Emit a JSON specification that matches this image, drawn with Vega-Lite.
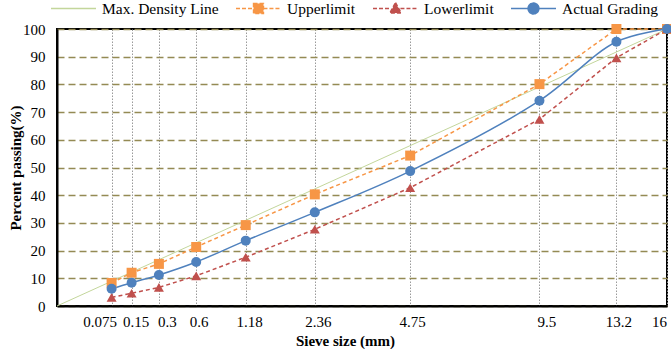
{
  "$schema": "https://vega.github.io/schema/vega-lite/v6.json",
  "width": 610,
  "height": 277,
  "autosize": {"type": "none"},
  "padding": {"left": 57, "top": 29, "right": 4, "bottom": 43},
  "background": "white",
  "config": {
    "view": {"stroke": "black", "strokeWidth": 2},
    "font": "Liberation Serif"
  },
  "data": {
    "values": [
      {"size": 0, "pct": 0, "series": "Max. Density Line"},
      {"size": 16, "pct": 100, "series": "Max. Density Line"},
      {"size": 0.075, "pct": 8.3, "series": "Upperlimit"},
      {"size": 0.15, "pct": 12, "series": "Upperlimit"},
      {"size": 0.3, "pct": 15.2, "series": "Upperlimit"},
      {"size": 0.6, "pct": 21.3, "series": "Upperlimit"},
      {"size": 1.18, "pct": 29.2, "series": "Upperlimit"},
      {"size": 2.36, "pct": 40.3, "series": "Upperlimit"},
      {"size": 4.75, "pct": 54.3, "series": "Upperlimit"},
      {"size": 9.5, "pct": 80.1, "series": "Upperlimit"},
      {"size": 13.2, "pct": 100, "series": "Upperlimit"},
      {"size": 16, "pct": 100, "series": "Upperlimit"},
      {"size": 0.075, "pct": 3.1, "series": "Lowerlimit"},
      {"size": 0.15, "pct": 4.6, "series": "Lowerlimit"},
      {"size": 0.3, "pct": 6.7, "series": "Lowerlimit"},
      {"size": 0.6, "pct": 10.9, "series": "Lowerlimit"},
      {"size": 1.18, "pct": 17.6, "series": "Lowerlimit"},
      {"size": 2.36, "pct": 27.7, "series": "Lowerlimit"},
      {"size": 4.75, "pct": 42.7, "series": "Lowerlimit"},
      {"size": 9.5, "pct": 67.4, "series": "Lowerlimit"},
      {"size": 13.2, "pct": 89.6, "series": "Lowerlimit"},
      {"size": 16, "pct": 100, "series": "Lowerlimit"},
      {"size": 0.075, "pct": 6.2, "series": "Actual Grading"},
      {"size": 0.15, "pct": 8.4, "series": "Actual Grading"},
      {"size": 0.3, "pct": 11.2, "series": "Actual Grading"},
      {"size": 0.6, "pct": 15.9, "series": "Actual Grading"},
      {"size": 1.18, "pct": 23.6, "series": "Actual Grading"},
      {"size": 2.36, "pct": 33.8, "series": "Actual Grading"},
      {"size": 4.75, "pct": 48.7, "series": "Actual Grading"},
      {"size": 9.5, "pct": 74.1, "series": "Actual Grading"},
      {"size": 13.2, "pct": 95.4, "series": "Actual Grading"},
      {"size": 16, "pct": 100, "series": "Actual Grading"}
    ]
  },
  "encoding": {
    "x": {
      "field": "size",
      "type": "quantitative",
      "scale": {"type": "pow", "exponent": 0.45, "domain": [0, 16], "nice": false, "zero": true},
      "axis": {
        "values": [0.075, 0.15, 0.3, 0.6, 1.18, 2.36, 4.75, 9.5, 13.2, 16],
        "labelExpr": "'' + datum.value",
        "title": "Sieve size (mm)",
        "titleFont": "Liberation Serif",
        "titleFontSize": 15,
        "titleFontWeight": "bold",
        "titleColor": "black",
        "titleX": 288,
        "titleY": 34,
        "titleAnchor": "middle",
        "titleAlign": "center",
        "titleBaseline": "middle",
        "labelFont": "Liberation Serif",
        "labelFontSize": 15,
        "labelColor": "black",
        "labelPadding": 8,
        "labelOverlap": false,
        "labelFlush": false,
        "labelOffset": {
          "condition": [
            {"test": "datum.value === 0.075", "value": -12},
            {"test": "datum.value === 0.15", "value": 4},
            {"test": "datum.value === 0.3", "value": 8},
            {"test": "datum.value === 0.6", "value": 2.5},
            {"test": "datum.value === 1.18", "value": 3.5},
            {"test": "datum.value === 2.36", "value": 3},
            {"test": "datum.value === 4.75", "value": 2},
            {"test": "datum.value === 9.5", "value": 7},
            {"test": "datum.value === 13.2", "value": 2},
            {"test": "datum.value === 16", "value": -8}
          ],
          "value": 0
        },
        "ticks": false,
        "domain": true,
        "domainColor": "black",
        "domainWidth": 2,
        "grid": true,
        "gridColor": "#9a9a9a",
        "gridDash": [1.5, 1.5],
        "gridWidth": 1
      }
    },
    "y": {
      "field": "pct",
      "type": "quantitative",
      "scale": {"domain": [0, 100], "nice": false},
      "axis": {
        "values": [0, 10, 20, 30, 40, 50, 60, 70, 80, 90, 100],
        "title": "Percent passing(%)",
        "titleFont": "Liberation Serif",
        "titleFontSize": 15,
        "titleFontWeight": "bold",
        "titleColor": "black",
        "titleX": -42,
        "titleY": 138.5,
        "titleAngle": -90,
        "titleAlign": "center",
        "titleBaseline": "middle",
        "labelFont": "Liberation Serif",
        "labelFontSize": 15,
        "labelColor": "black",
        "labelPadding": 12,
        "labelFlush": false,
        "ticks": false,
        "domain": true,
        "domainColor": "black",
        "domainWidth": 2,
        "grid": true,
        "gridColor": "#948A54",
        "gridDash": [7, 4],
        "gridWidth": 1.6
      }
    },
    "color": {
      "field": "series",
      "type": "nominal",
      "scale": {
        "domain": ["Max. Density Line", "Upperlimit", "Lowerlimit", "Actual Grading"],
        "range": ["#C3D69B", "#F79646", "#C0504D", "#4F81BD"]
      },
      "legend": {
        "orient": "none",
        "legendX": -7,
        "legendY": -44,
        "direction": "horizontal",
        "columns": 4,
        "title": null,
        "symbolSize": 2025,
        "symbolStrokeWidth": 1.5,
        "labelFont": "Liberation Serif",
        "labelFontSize": 15.5,
        "labelColor": "black",
        "labelOffset": 5,
        "columnPadding": 14,
        "encode": {
          "symbols": {
            "update": {
              "shape": {"signal": "datum.value === 'Upperlimit' ? 'M-1,0H-0.22M0.22,0H1M-0.22,-0.22H0.22V0.22H-0.22Z' : datum.value === 'Lowerlimit' ? 'M-1,0H-0.22M0.22,0H1M0,-0.26L0.25,0.2H-0.25Z' : datum.value === 'Actual Grading' ? 'M-1,0H-0.24M0.24,0H1M-0.24,0A0.24,0.24 0 1,0 0.24,0A0.24,0.24 0 1,0 -0.24,0Z' : 'M-1,0H1'"},
              "fill": {"signal": "scale('color', datum.value)"},
              "stroke": {"signal": "scale('color', datum.value)"},
              "strokeDash": {"signal": "datum.value === 'Upperlimit' || datum.value === 'Lowerlimit' ? [4, 2] : [1, 0]"},
              "fillOpacity": {"value": 1},
              "opacity": {"value": 1}
            }
          }
        }
      }
    }
  },
  "layer": [
    {
      "transform": [{"filter": "datum.series === 'Max. Density Line'"}],
      "mark": {"type": "line", "strokeWidth": 1}
    },
    {
      "transform": [{"filter": "datum.series === 'Upperlimit' || datum.series === 'Lowerlimit'"}],
      "mark": {"type": "line", "strokeWidth": 1.5, "strokeDash": [4, 3]}
    },
    {
      "transform": [{"filter": "datum.series === 'Actual Grading'"}],
      "mark": {"type": "line", "strokeWidth": 1.5, "interpolate": "catmull-rom"}
    },
    {
      "transform": [{"filter": "datum.series !== 'Max. Density Line'"}],
      "mark": {"type": "point", "filled": true, "opacity": 1, "size": 100},
      "encoding": {
        "shape": {
          "field": "series",
          "type": "nominal",
          "scale": {"domain": ["Upperlimit", "Lowerlimit", "Actual Grading"], "range": ["square", "triangle-up", "circle"]},
          "legend": null
        }
      }
    }
  ]
}
